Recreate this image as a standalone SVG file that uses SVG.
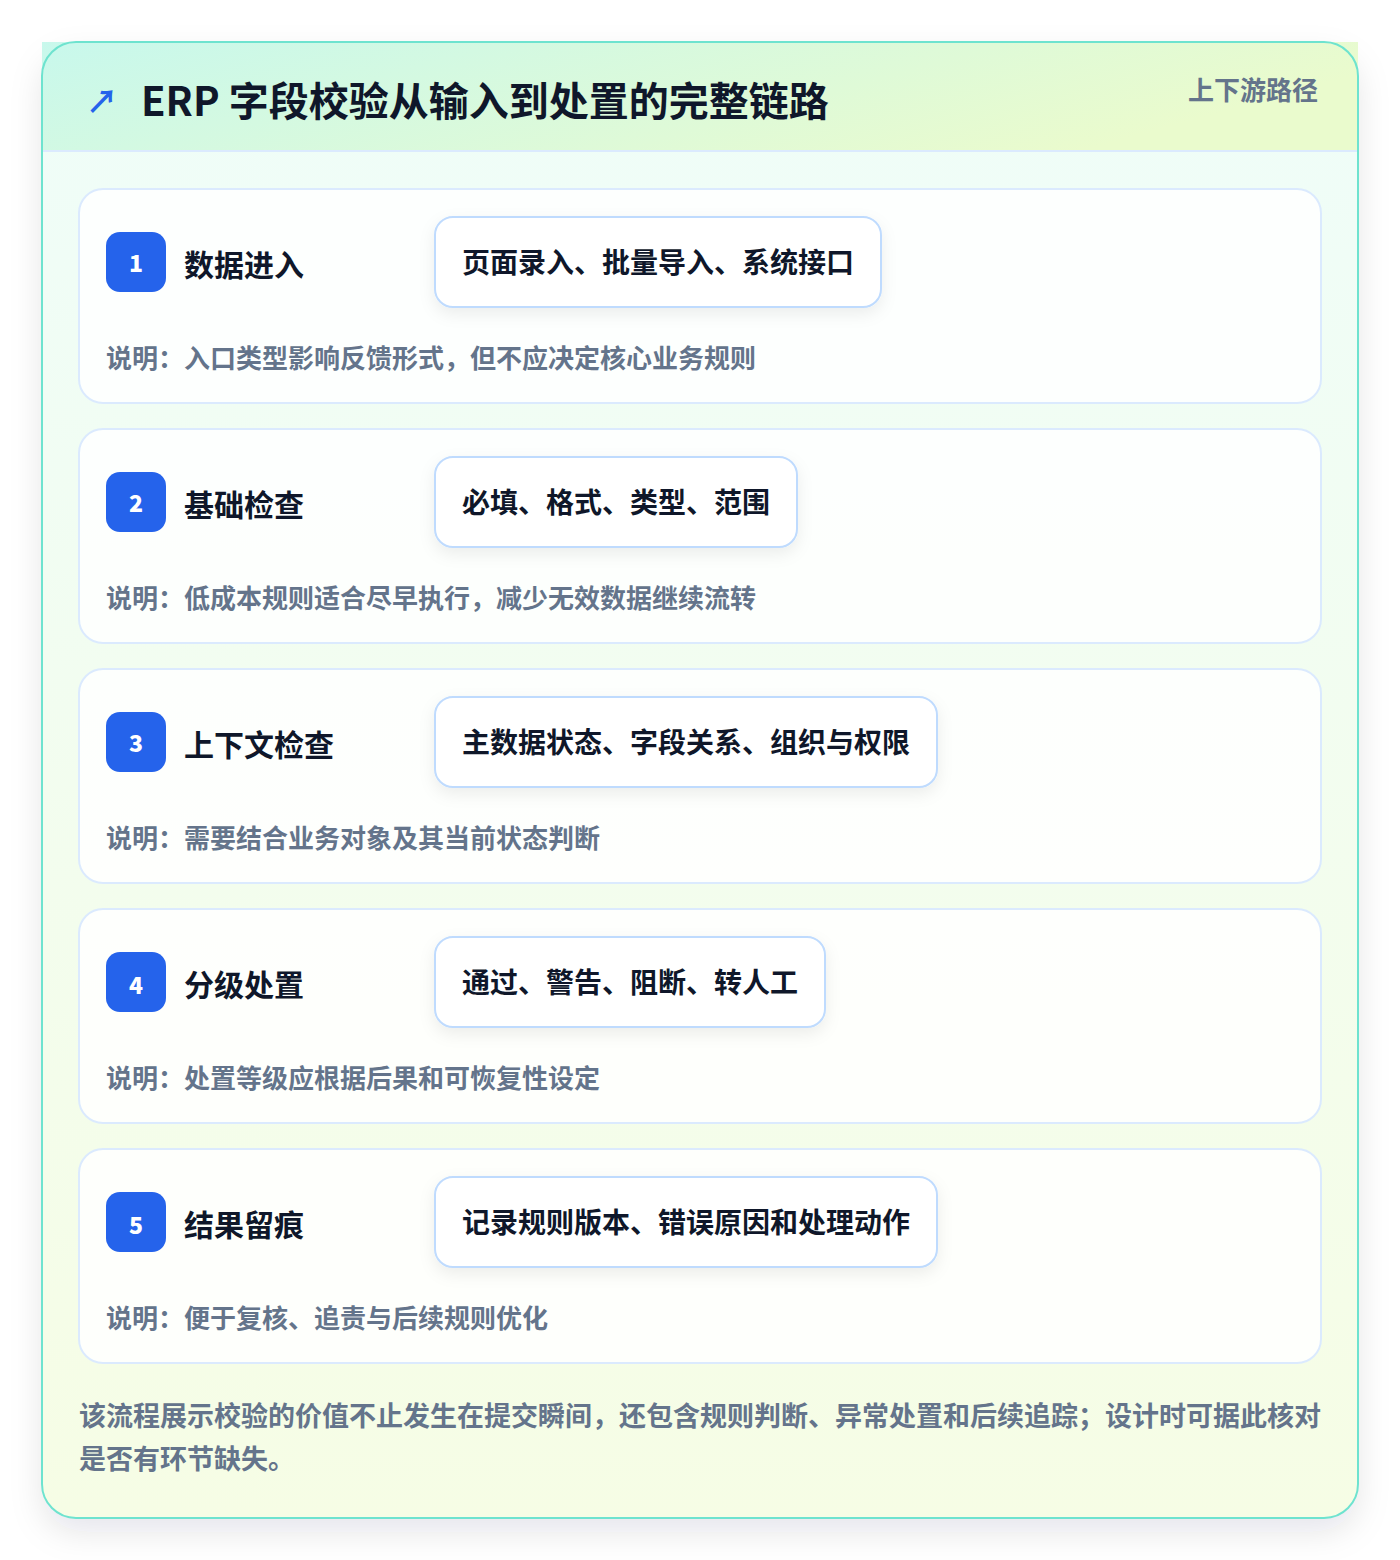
<svg xmlns="http://www.w3.org/2000/svg" width="1400" height="1560" viewBox="0 0 1400 1560">
<defs>
<linearGradient id="hdr" x1="0" y1="0" x2="1" y2="0.3">
<stop offset="0" stop-color="#c8f8ec"/>
<stop offset="1" stop-color="#eafbcd"/>
</linearGradient>
<linearGradient id="body" x1="0" y1="0" x2="0" y2="1">
<stop offset="0" stop-color="#effdf9"/>
<stop offset="1" stop-color="#f6fde5"/>
</linearGradient>
<filter id="sh" x="-10%" y="-10%" width="120%" height="125%">
<feDropShadow dx="0" dy="14" stdDeviation="16" flood-color="#0f172a" flood-opacity="0.10"/>
</filter>
<filter id="tsh" x="-20%" y="-30%" width="140%" height="180%">
<feDropShadow dx="0" dy="6" stdDeviation="8" flood-color="#0f172a" flood-opacity="0.07"/>
</filter>
</defs>
<style>
text{font-family:"Noto Sans CJK SC","Noto Sans",sans-serif;font-weight:700;dominant-baseline:central}
.card{fill:#ffffff;fill-opacity:0.85;stroke:#dbeafe;stroke-width:2}
.badge{fill:#2563eb}
.num{fill:#ffffff;font-size:23px;text-anchor:middle;font-weight:800}
.st{fill:#0f172a;font-size:30px}
.tag{fill:#ffffff;stroke:#bfdbfe;stroke-width:2}
.tt{fill:#0f172a;font-size:28px}
.desc{fill:#64748b;font-size:26px}
.foot{fill:#64748b;font-size:27px}
</style>
<rect width="1400" height="1560" fill="#ffffff"/>
<g id="frame">
<rect x="42" y="42" width="1316" height="1476" rx="34" fill="url(#body)" filter="url(#sh)"/>
<rect x="42" y="42" width="1316" height="109" fill="url(#hdr)"/>
<line x1="42" y1="151" x2="1358" y2="151" stroke="#dbeafe" stroke-width="2"/>
<rect x="42" y="42" width="1316" height="1476" rx="34" fill="none" stroke="#6ee3cf" stroke-width="2"/>
<text x="86" y="99" font-size="32" fill="#2563eb">↗</text>
<text x="141" y="98.5" font-size="40" fill="#0f172a" font-weight="900">ERP 字段校验从输入到处置的完整链路</text>
<text x="1318" y="88" font-size="26" fill="#64748b" text-anchor="end">上下游路径</text>
</g>
<g id="step1">
<rect class="card" x="79" y="189" width="1242" height="214" rx="24"/>
<rect class="badge" x="106" y="232" width="60" height="60" rx="14"/>
<text class="num" x="136" y="262">1</text>
<text class="st" x="184" y="262.5">数据进入</text>
<rect class="tag" x="435" y="217" width="446" height="90" rx="18" filter="url(#tsh)"/>
<text class="tt" x="462" y="261">页面录入、批量导入、系统接口</text>
<text class="desc" x="106" y="356.5">说明：入口类型影响反馈形式，但不应决定核心业务规则</text>
</g>
<g id="step2">
<rect class="card" x="79" y="429" width="1242" height="214" rx="24"/>
<rect class="badge" x="106" y="472" width="60" height="60" rx="14"/>
<text class="num" x="136" y="502">2</text>
<text class="st" x="184" y="502.5">基础检查</text>
<rect class="tag" x="435" y="457" width="362" height="90" rx="18" filter="url(#tsh)"/>
<text class="tt" x="462" y="501">必填、格式、类型、范围</text>
<text class="desc" x="106" y="596.5">说明：低成本规则适合尽早执行，减少无效数据继续流转</text>
</g>
<g id="step3">
<rect class="card" x="79" y="669" width="1242" height="214" rx="24"/>
<rect class="badge" x="106" y="712" width="60" height="60" rx="14"/>
<text class="num" x="136" y="742">3</text>
<text class="st" x="184" y="742.5">上下文检查</text>
<rect class="tag" x="435" y="697" width="502" height="90" rx="18" filter="url(#tsh)"/>
<text class="tt" x="462" y="741">主数据状态、字段关系、组织与权限</text>
<text class="desc" x="106" y="836.5">说明：需要结合业务对象及其当前状态判断</text>
</g>
<g id="step4">
<rect class="card" x="79" y="909" width="1242" height="214" rx="24"/>
<rect class="badge" x="106" y="952" width="60" height="60" rx="14"/>
<text class="num" x="136" y="984">4</text>
<text class="st" x="184" y="982.5">分级处置</text>
<rect class="tag" x="435" y="937" width="390" height="90" rx="18" filter="url(#tsh)"/>
<text class="tt" x="462" y="981">通过、警告、阻断、转人工</text>
<text class="desc" x="106" y="1076.5">说明：处置等级应根据后果和可恢复性设定</text>
</g>
<g id="step5">
<rect class="card" x="79" y="1149" width="1242" height="214" rx="24"/>
<rect class="badge" x="106" y="1192" width="60" height="60" rx="14"/>
<text class="num" x="136" y="1224">5</text>
<text class="st" x="184" y="1222.5">结果留痕</text>
<rect class="tag" x="435" y="1177" width="502" height="90" rx="18" filter="url(#tsh)"/>
<text class="tt" x="462" y="1221">记录规则版本、错误原因和处理动作</text>
<text class="desc" x="106" y="1316.5">说明：便于复核、追责与后续规则优化</text>
</g>
<g id="footer">
<text class="foot" x="79" y="1414.5">该流程展示校验的价值不止发生在提交瞬间，还包含规则判断、异常处置和后续追踪；设计时可据此核对</text>
<text class="foot" x="79" y="1457.5">是否有环节缺失。</text>
</g>
<g id="connectors"/>
</svg>
